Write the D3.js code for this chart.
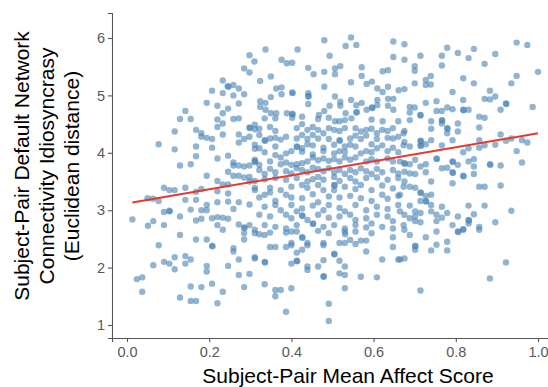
<!DOCTYPE html>
<html>
<head>
<meta charset="utf-8">
<script src="https://cdn.jsdelivr.net/npm/d3@7"></script>
<style>
  html, body { margin: 0; padding: 0; background: #fff; }
  svg { display: block; font-family: "Liberation Sans", Arial, sans-serif; }
</style>
</head>
<body>
<svg id="chart" width="548" height="387"></svg>
<script>
// Subject-pair scatter: mean affect vs. default network idiosyncrasy

// [mean affect score, euclidean distance]
const points = [
  [0.298,5.70],[0.310,5.59],[0.285,5.47],[0.298,5.40],[0.233,5.26],[0.245,5.16],[0.247,5.15],[0.259,5.18],[0.272,5.12],
  [0.207,5.08],[0.233,5.04],[0.259,5.00],[0.285,5.02],[0.194,4.87],[0.220,4.82],[0.272,4.86],[0.246,4.77],[0.233,4.69],[0.142,4.73],
  [0.337,5.80],[0.415,5.80],[0.480,5.96],[0.545,6.01],[0.532,5.86],[0.558,5.88],[0.648,5.94],[0.493,5.69],[0.376,5.62],[0.389,5.56],
  [0.402,5.57],[0.648,5.67],[0.441,5.48],[0.454,5.37],[0.480,5.41],[0.506,5.47],[0.519,5.51],[0.506,5.37],[0.571,5.49],[0.571,5.34],
  [0.622,5.42],[0.635,5.44],[0.324,5.25],[0.350,5.33],[0.545,5.23],[0.583,5.20],[0.596,5.24],[0.480,5.15],[0.363,5.12],[0.376,5.14],
  [0.376,5.02],[0.402,5.05],[0.403,5.04],[0.441,5.04],[0.441,4.98],[0.442,4.99],[0.609,5.12],[0.622,5.06],[0.635,5.15],[0.661,5.09],
  [0.350,4.97],[0.324,4.90],[0.324,4.80],[0.337,4.87],[0.337,4.75],[0.350,4.69],[0.363,4.69],[0.389,4.69],[0.402,4.68],[0.403,4.67],
  [0.441,4.85],[0.467,4.66],[0.480,4.73],[0.506,4.98],[0.519,4.89],[0.519,4.82],[0.493,4.82],[0.532,4.69],[0.545,4.92],[0.558,4.83],
  [0.571,4.87],[0.558,4.70],[0.559,4.71],[0.583,4.75],[0.596,4.79],[0.597,4.78],[0.609,4.92],[0.609,4.83],[0.635,4.94],[0.648,4.94],
  [0.635,4.82],[0.648,4.75],
  [0.675,5.89],[0.675,5.62],[0.714,5.69],[0.700,5.51],[0.700,5.43],[0.766,5.69],[0.766,5.52],[0.779,5.83],[0.805,5.74],[0.844,5.81],
  [0.831,5.65],[0.870,5.55],[0.896,5.72],[0.948,5.92],[0.974,5.88],[1.000,5.41],[0.948,5.34],[0.935,5.21],[0.675,5.11],[0.700,5.21],
  [0.727,5.27],[0.739,5.34],[0.727,5.18],[0.739,5.19],[0.818,5.30],[0.844,5.21],[0.792,5.06],[0.883,5.08],[0.870,4.94],[0.883,4.93],
  [0.896,4.98],[0.818,4.92],[0.922,4.86],[0.923,4.85],[0.909,4.75],[0.987,4.80],[0.753,4.90],[0.727,4.87],[0.688,4.80],[0.700,4.79],
  [0.753,4.73],[0.766,4.73],[0.779,4.79],[0.792,4.76],[0.818,4.75],[0.819,4.74],[0.831,4.75],[0.688,4.70],[0.714,4.66],
  [0.129,4.59],[0.155,4.59],[0.220,4.58],[0.259,4.59],[0.272,4.60],[0.233,4.51],[0.220,4.45],[0.298,4.44],[0.299,4.43],[0.311,4.41],
  [0.116,4.37],[0.168,4.40],[0.181,4.34],[0.194,4.26],[0.207,4.24],[0.181,4.28],[0.233,4.32],[0.272,4.32],[0.285,4.24],[0.272,4.18],
  [0.298,4.28],[0.077,4.15],[0.116,4.06],[0.168,4.11],[0.207,4.09],[0.168,3.94],[0.220,3.90],[0.246,3.95],[0.311,4.07],[0.129,3.78],
  [0.155,3.80],[0.259,3.83],[0.259,3.78],[0.272,3.78],[0.285,3.76],[0.298,3.78],[0.311,3.85],[0.312,3.84],[0.246,3.67],[0.259,3.60],
  [0.272,3.60],[0.285,3.57],[0.298,3.58],[0.194,3.60],[0.220,3.51],[0.298,3.50],[0.233,3.45],[0.246,3.45],[0.311,3.39],[0.311,3.35],
  [0.090,3.39],[0.103,3.35],[0.116,3.35],[0.142,3.39],[0.168,3.32],[0.181,3.37],[0.220,3.33],[0.246,3.29],[0.050,3.21],[0.063,3.20],
  [0.077,3.16],[0.142,3.18],[0.168,3.18],[0.194,3.09],[0.220,3.14],[0.246,3.15],[0.272,3.14],[0.298,3.10],[0.090,2.97],[0.103,2.99],
  [0.104,2.98],[0.129,2.89],[0.155,3.01],[0.181,3.00],[0.194,3.00],[0.259,3.02],[0.168,2.82],[0.181,2.85],[0.207,2.86],[0.220,2.88],
  [0.233,2.87],[0.246,2.85],[0.013,2.84],[0.051,2.73],[0.064,2.81],[0.090,2.74],[0.220,2.74],[0.233,2.66],[0.272,2.75],[0.285,2.70],
  [0.286,2.69],[0.298,2.74],[0.311,2.66],
  [0.335,4.60],[0.361,4.60],[0.402,4.61],[0.426,4.63],[0.465,4.59],[0.491,4.61],[0.506,4.55],[0.517,4.55],[0.530,4.57],[0.546,4.60],
  [0.595,4.58],[0.622,4.55],[0.660,4.55],
  [0.311,4.49],[0.322,4.42],[0.348,4.45],[0.361,4.38],[0.413,4.43],[0.426,4.50],[0.439,4.40],[0.452,4.45],[0.465,4.40],[0.478,4.34],
  [0.491,4.43],[0.504,4.40],[0.517,4.38],[0.530,4.43],[0.556,4.43],[0.569,4.37],[0.582,4.40],[0.595,4.42],[0.608,4.34],[0.621,4.40],
  [0.634,4.38],[0.647,4.43],[0.673,4.34],
  [0.322,4.31],[0.335,4.22],[0.336,4.21],[0.348,4.25],[0.361,4.26],[0.374,4.23],[0.387,4.28],[0.413,4.25],[0.426,4.31],[0.439,4.24],
  [0.452,4.31],[0.465,4.25],[0.491,4.24],[0.517,4.22],[0.518,4.21],[0.543,4.25],[0.556,4.30],[0.569,4.24],[0.582,4.30],[0.608,4.24],
  [0.634,4.26],[0.647,4.25],[0.660,4.28],
  [0.311,4.14],[0.322,4.08],[0.361,4.11],[0.413,4.11],[0.414,4.10],[0.426,4.08],[0.439,4.15],[0.452,4.13],[0.478,4.09],[0.504,4.14],
  [0.530,4.11],[0.543,4.14],[0.556,4.11],[0.595,4.15],[0.621,4.13],[0.647,4.09],[0.673,4.13],
  [0.335,4.01],[0.361,3.96],[0.387,3.99],[0.400,4.03],[0.426,4.02],[0.452,3.97],[0.478,4.03],[0.504,3.99],[0.517,4.03],[0.530,4.02],
  [0.569,3.99],[0.582,4.03],[0.595,4.01],[0.608,4.08],[0.634,4.03],[0.660,4.01],
  [0.311,3.88],[0.322,3.79],[0.348,3.85],[0.374,3.92],[0.374,3.80],[0.387,3.83],[0.400,3.79],[0.413,3.80],[0.426,3.82],[0.439,3.85],
  [0.452,3.92],[0.465,3.87],[0.478,3.90],[0.491,3.86],[0.504,3.89],[0.517,3.85],[0.530,3.92],[0.543,3.88],[0.556,3.92],[0.582,3.85],
  [0.595,3.89],[0.608,3.85],[0.634,3.90],[0.647,3.85],
  [0.322,3.70],[0.335,3.63],[0.348,3.72],[0.361,3.66],[0.387,3.68],[0.400,3.64],[0.413,3.73],[0.426,3.70],[0.439,3.66],[0.452,3.74],
  [0.465,3.72],[0.478,3.68],[0.491,3.73],[0.504,3.66],[0.517,3.70],[0.530,3.63],[0.543,3.70],[0.556,3.66],[0.569,3.73],[0.582,3.68],
  [0.595,3.63],[0.608,3.72],[0.621,3.66],[0.647,3.70],[0.660,3.64],
  [0.311,3.51],[0.335,3.54],[0.361,3.56],[0.387,3.53],[0.413,3.56],[0.439,3.50],[0.452,3.54],[0.465,3.58],[0.478,3.53],[0.504,3.58],
  [0.517,3.51],[0.543,3.56],[0.556,3.50],[0.582,3.56],[0.608,3.57],[0.634,3.53],[0.660,3.56],
  [0.348,3.39],[0.348,3.31],[0.374,3.35],[0.400,3.41],[0.426,3.44],[0.439,3.39],[0.465,3.44],[0.478,3.35],[0.504,3.44],[0.505,3.43],
  [0.504,3.35],[0.530,3.41],[0.556,3.37],[0.569,3.44],[0.595,3.35],[0.621,3.43],[0.647,3.38],[0.673,3.41],
  [0.322,3.22],[0.335,3.27],[0.361,3.16],[0.387,3.27],[0.400,3.22],[0.426,3.21],[0.452,3.28],[0.465,3.14],[0.491,3.24],[0.517,3.22],
  [0.543,3.25],[0.569,3.21],[0.595,3.16],[0.621,3.27],[0.634,3.20],[0.660,3.25],
  [0.335,3.06],[0.361,3.09],[0.374,3.00],[0.400,3.09],[0.413,2.98],[0.426,3.03],[0.452,3.08],[0.478,3.00],[0.491,3.09],[0.517,3.04],
  [0.530,2.98],[0.556,3.09],[0.582,3.00],[0.608,3.06],[0.634,3.02],[0.660,3.09],
  [0.322,2.92],[0.348,2.89],[0.387,2.92],[0.400,2.86],[0.426,2.91],[0.427,2.90],[0.439,2.83],[0.465,2.92],[0.491,2.87],[0.517,2.89],
  [0.543,2.92],[0.556,2.83],[0.582,2.86],[0.608,2.92],[0.634,2.89],[0.647,2.81],
  [0.335,2.74],[0.361,2.71],[0.387,2.68],[0.413,2.74],[0.452,2.77],[0.453,2.76],[0.478,2.71],[0.504,2.74],[0.530,2.68],[0.556,2.74],
  [0.582,2.70],[0.595,2.77],[0.621,2.71],[0.647,2.68],[0.673,2.74],
  [0.688,4.57],[0.714,4.65],[0.740,4.55],[0.766,4.57],[0.767,4.56],[0.766,4.51],[0.805,4.51],[0.857,4.63],[0.870,4.61],
  [0.675,4.38],[0.740,4.42],[0.779,4.43],[0.780,4.42],[0.779,4.34],[0.805,4.37],[0.857,4.44],
  [0.675,4.19],[0.688,4.11],[0.714,4.21],[0.715,4.20],[0.714,4.13],[0.715,4.12],[0.727,4.15],[0.740,4.22],[0.766,4.13],[0.792,4.22],
  [0.857,4.22],[0.857,4.09],[0.909,4.32],[0.896,4.14],[0.922,4.21],[0.935,4.25],[0.961,4.22],[0.974,4.18],[0.948,4.03],[0.818,4.01],
  [0.831,4.08],[0.870,4.13],
  [0.664,3.85],[0.675,3.82],[0.676,3.81],[0.688,3.80],[0.714,3.76],[0.727,3.80],[0.753,3.90],[0.754,3.89],[0.766,3.73],[0.779,3.74],
  [0.792,3.85],[0.793,3.84],[0.805,3.79],[0.831,3.85],[0.844,3.89],[0.844,3.76],[0.883,3.80],[0.884,3.79],[0.909,3.78],[0.961,3.83],
  [0.701,3.88],
  [0.675,3.67],[0.688,3.64],[0.701,3.63],[0.727,3.66],[0.792,3.66],[0.793,3.65],[0.818,3.60],[0.819,3.59],[0.844,3.63],[0.792,3.47],
  [0.675,3.50],[0.688,3.41],[0.701,3.39],[0.740,3.50],[0.857,3.41],[0.870,3.41],[0.909,3.43],
  [0.664,3.27],[0.714,3.31],[0.715,3.30],[0.727,3.25],[0.740,3.27],[0.727,3.16],[0.728,3.15],[0.740,3.09],[0.714,3.16],[0.688,3.08],
  [0.766,3.06],[0.831,3.08],[0.870,3.08],[0.935,2.99],
  [0.664,2.98],[0.675,2.92],[0.701,2.98],[0.701,2.89],[0.714,2.95],[0.740,2.98],[0.753,2.92],[0.766,2.87],[0.779,2.95],[0.753,2.81],
  [0.805,2.89],[0.831,2.83],[0.832,2.82],[0.831,2.77],[0.844,2.93],[0.896,2.79],[0.675,2.66],[0.701,2.81],[0.714,2.79],[0.792,2.74],
  [0.818,2.67],[0.857,2.71],[0.688,2.86],
  [0.129,2.57],[0.168,2.49],[0.194,2.49],[0.207,2.38],[0.208,2.37],[0.285,2.60],[0.285,2.49],[0.311,2.60],[0.077,2.39],[0.064,2.04],
  [0.090,2.10],[0.103,2.07],[0.116,2.18],[0.116,1.97],[0.142,2.20],[0.142,2.07],[0.155,2.14],[0.194,2.03],[0.194,1.93],[0.246,2.03],
  [0.259,2.34],[0.259,2.28],[0.272,2.14],[0.311,2.18],[0.272,1.87],[0.298,1.89],[0.024,1.80],[0.037,1.83],[0.037,1.58],[0.155,1.67],
  [0.181,1.66],[0.207,1.72],[0.233,1.58],[0.285,1.66],[0.129,1.48],[0.155,1.42],[0.168,1.42],[0.220,1.38],
  [0.322,2.58],[0.335,2.57],[0.348,2.61],[0.387,2.61],[0.400,2.63],[0.413,2.63],[0.465,2.64],[0.491,2.60],[0.530,2.63],[0.531,2.58],
  [0.556,2.63],[0.595,2.60],[0.647,2.53],
  [0.348,2.36],[0.361,2.36],[0.387,2.36],[0.400,2.39],[0.400,2.43],[0.413,2.26],[0.426,2.31],[0.426,2.53],[0.427,2.52],[0.439,2.43],
  [0.439,2.39],[0.478,2.43],[0.478,2.39],[0.517,2.43],[0.530,2.43],[0.543,2.48],[0.556,2.41],[0.569,2.47],[0.582,2.47],[0.582,2.28],
  [0.647,2.36],
  [0.335,2.10],[0.336,2.09],[0.400,2.07],[0.413,2.12],[0.414,2.11],[0.439,2.02],[0.439,1.96],[0.465,2.02],[0.478,2.13],[0.504,2.24],
  [0.505,2.23],[0.517,2.12],[0.530,2.02],[0.517,1.90],[0.530,1.87],[0.569,1.84],[0.608,1.83],[0.621,2.14],[0.660,2.14],[0.311,2.16],
  [0.478,1.85],[0.479,1.84],[0.335,1.71],[0.361,1.61],[0.374,1.61],[0.361,1.50],[0.400,1.64],[0.530,1.64],
  [0.387,1.23],[0.491,1.37],[0.491,1.07],
  [0.688,2.57],[0.727,2.53],[0.753,2.63],[0.779,2.45],[0.805,2.63],[0.806,2.62],[0.818,2.66],[0.857,2.66],[0.701,2.38],[0.702,2.37],
  [0.701,2.31],[0.740,2.30],[0.753,2.40],[0.779,2.30],[0.664,2.14],[0.675,2.16],[0.922,2.09],[0.883,1.81],[0.714,1.60]
]

// linear fit as drawn in the figure
const fitIntercept = 3.12
const fitSlope = 1.22

const xTicks = [0.0, 0.2, 0.4, 0.6, 0.8, 1.0]
const yTicks = [1, 2, 3, 4, 5, 6]

const xLabel = 'Subject-Pair Mean Affect Score'
const yLabel = ['Subject-Pair Default Network', 'Connectivity Idiosyncrasy', '(Euclidean distance)']

const plot = { left: 112, right: 548, top: 13, bottom: 338 }

const svg = d3.select('#chart')

const x = d3.scaleLinear()
  .domain([-0.0365, 1.0243])
  .range([plot.left, plot.right])

const y = d3.scaleLinear()
  .domain([0.7735, 6.4355])
  .range([plot.bottom, plot.top])

// Points
svg.append('g')
  .selectAll('circle')
  .data(points)
  .join('circle')
  .attr('cx', d => x(d[0]))
  .attr('cy', d => y(d[1]))
  .attr('r', 3.2)
  .attr('fill', '#4682b4')
  .attr('fill-opacity', 0.6)

// Fit line over the data range
const xExtent = d3.extent(points, d => d[0])
svg.append('line')
  .attr('x1', x(xExtent[0]))
  .attr('y1', y(fitIntercept + fitSlope * xExtent[0]))
  .attr('x2', x(xExtent[1]))
  .attr('y2', y(fitIntercept + fitSlope * xExtent[1]))
  .attr('stroke', '#e4392b')
  .attr('stroke-width', 2)

// Axes
const xAxis = svg.append('g')
  .attr('transform', `translate(0,${plot.bottom})`)
  .call(d3.axisBottom(x).tickValues(xTicks).tickFormat(d3.format('.1f')).tickSizeOuter(0).tickSize(4).tickPadding(5))

const yAxis = svg.append('g')
  .attr('transform', `translate(${plot.left},0)`)
  .call(d3.axisLeft(y).tickValues(yTicks).tickFormat(d3.format('d')).tickSizeOuter(0).tickSize(4).tickPadding(3))

for (const ax of [xAxis, yAxis]) {
  ax.select('.domain').attr('stroke', '#555').attr('stroke-width', 1.1)
  ax.selectAll('.tick line').attr('stroke', '#555').attr('stroke-width', 1.1)
  ax.selectAll('.tick text')
    .attr('fill', '#595959')
    .attr('font-size', 14.5)
    .attr('font-family', '"Liberation Sans", Arial, sans-serif')
}

// Axis titles
svg.append('text')
  .attr('x', (plot.left + plot.right) / 2 + 18)
  .attr('y', 383)
  .attr('text-anchor', 'middle')
  .attr('font-size', 21)
  .attr('fill', '#000')
  .text(xLabel)

svg.append('text')
  .attr('transform', 'translate(0,166) rotate(-90)')
  .attr('text-anchor', 'middle')
  .attr('font-size', 21)
  .attr('fill', '#000')
  .selectAll('tspan')
  .data(yLabel)
  .join('tspan')
  .attr('x', 0)
  .attr('y', (d, i) => 28.5 + i * 25)
  .text(d => d)
</script>
</body>
</html>
